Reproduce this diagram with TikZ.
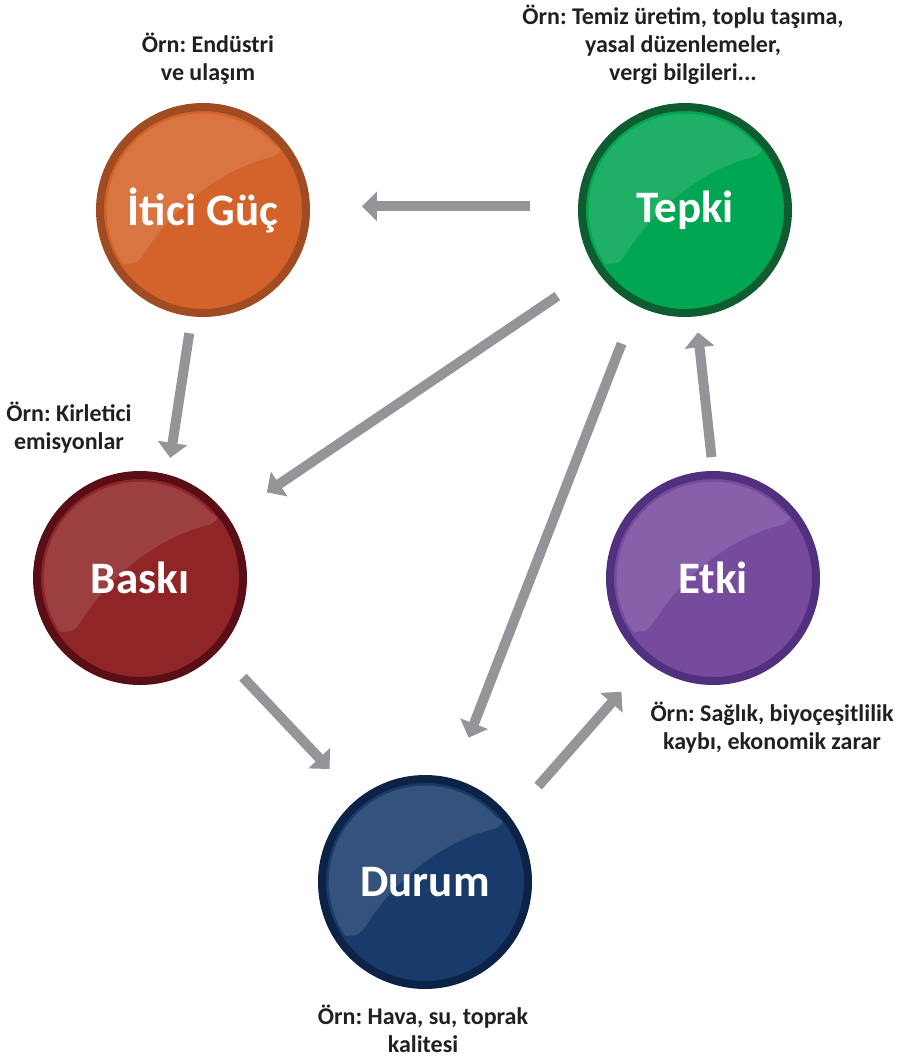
\documentclass[tikz,border=0pt]{standalone}
\usepackage{fontspec}
\setmainfont{Carlito}
\frenchspacing
\usetikzlibrary{arrows.meta}
\definecolor{lbltext}{HTML}{231F20}
\definecolor{arrowgray}{HTML}{939598}
\definecolor{iticifill}{HTML}{D3632A}\definecolor{iticiring}{HTML}{A04B22}
\definecolor{tepkifill}{HTML}{00A651}\definecolor{tepkiring}{HTML}{0F5C30}
\definecolor{baskifill}{HTML}{8F2527}\definecolor{baskiring}{HTML}{5A0E16}
\definecolor{etkifill}{HTML}{764A9D}\definecolor{etkiring}{HTML}{50307F}
\definecolor{durumfill}{HTML}{183B6B}\definecolor{durumring}{HTML}{0C2247}
\tikzset{
  ball/.style 2 args={shape=circle,draw=#2,fill=#1,line width=8pt,inner sep=0pt,
    minimum size=206pt,text=white,font=\fontsize{45}{52}\selectfont\bfseries},
  lbl/.style={align=center,text=lbltext,font=\fontsize{24}{28}\selectfont\bfseries},
  flow/.style={draw=arrowgray,line width=10pt,-{Triangle[length=15pt,width=29pt]}}
}
\newcommand\gloss[1]{%
  \fill[white,opacity=.12,shift={(#1.center)},x=107pt,y=107pt]
    (214:.9) arc[start angle=214,end angle=42,radius=.9]
    .. controls (0.74,0.56) .. (0.66,0.5)
    .. controls (0.3,0.42) and (-0.2,0.15) .. (-0.56,-0.42)
    .. controls (-0.62,-0.5) .. cycle;}

\begin{document}
\begin{tikzpicture}[x=1pt,y=-1pt]
	\useasboundingbox (0,0) rectangle (904,1058);
	\node[ball={iticifill}{iticiring}] (Itici) at (203,210) {İtici Güç};
	\node[ball={tepkifill}{tepkiring}] (Tepki) at (685,210) {Tepki};
	\node[ball={baskifill}{baskiring}] (Baski) at (140,578) {Baskı};
	\node[ball={etkifill}{etkiring}] (Etki) at (713,578) {Etki};
	\node[ball={durumfill}{durumring}] (Durum) at (425,882) {Durum};
	\gloss{Itici}\gloss{Tepki}\gloss{Baski}\gloss{Etki}\gloss{Durum}
	%
	\node[lbl] (IticiLbl) at (208,59) {Örn: Endüstri\\ve ulaşım};
	\node[lbl] (TepkiLbl) at (683,45) {Örn: Temiz üretim, toplu taşıma,\\yasal düzenlemeler,\\vergi bilgileri...};
	\node[lbl] (BaskiLbl) at (69,428) {Örn: Kirletici\\emisyonlar};
	\node[lbl] (EtkiLbl) at (772,728) {Örn: Sağlık, biyoçeşitlilik\\kaybı, ekonomik zarar};
	\node[lbl] (DurumLbl) at (423,1029) {Örn: Hava, su, toprak\\kalitesi};
	%
	\draw[flow,shorten <=48pt,shorten >=52pt] (Tepki.178) -- (Itici.2);
	\draw[flow,shorten <=17pt,shorten >=17pt] (Itici.264) -- (Baski.75);
	\draw[flow,shorten <=47pt,shorten >=46pt] (Tepki.214) -- (Baski.34);
	\draw[flow,shorten <=41pt,shorten >=44pt] (Tepki.243) -- (Durum.75);
	\draw[flow,shorten <=36pt,shorten >=41pt] (Baski.317) -- (Durum.129);
	\draw[flow,shorten <=42pt,shorten >=39pt] (Durum.37) -- (Etki.232);
	\draw[flow,shorten <=14pt,shorten >=16pt] (Etki.90) -- (Tepki.276);
\end{tikzpicture}
\end{document}
